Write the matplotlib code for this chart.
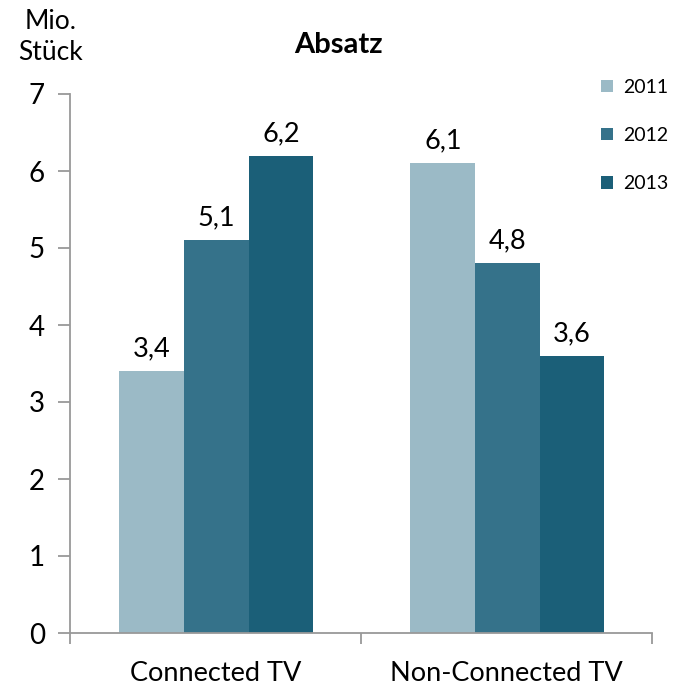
import matplotlib
matplotlib.use("Agg")
import matplotlib.pyplot as plt
import numpy as np

plt.rcParams['font.family'] = ['Lato', 'DejaVu Sans']

categories = ["Connected TV", "Non-Connected TV"]
years = ["2011", "2012", "2013"]
values = {
    "2011": [3.4, 6.1],
    "2012": [5.1, 4.8],
    "2013": [6.2, 3.6],
}
value_labels = {
    "2011": ["3,4", "6,1"],
    "2012": ["5,1", "4,8"],
    "2013": ["6,2", "3,6"],
}
colors = ["#9BBAC6", "#35728A", "#1B5F78"]
yticks = [0, 1, 2, 3, 4, 5, 6, 7]

fig = plt.figure(figsize=(6.79, 6.87), dpi=100)
ax = fig.add_axes([70/679, 1-633/687, (652-70)/679, (633-94)/687])

x = np.arange(len(categories))
w = 0.222
for i, yr in enumerate(years):
    pos = x + (i - 1) * w + 0.003
    ax.bar(pos, values[yr], width=w, color=colors[i], label=yr, edgecolor='none')
    for p, v, lab in zip(pos, values[yr], value_labels[yr]):
        ax.text(p, v + 0.19, lab, ha='center', va='baseline', fontsize=19.5)

ax.set_xlim(-0.5, 1.5)
ax.set_ylim(0, 7)
ax.set_yticks(yticks)
ax.set_yticklabels([str(t) for t in yticks], fontsize=20)
ax.set_xticks([-0.5, 0.5, 1.5])
ax.set_xticklabels([])
ax.set_xticks(x, minor=True)
ax.set_xticklabels(categories, minor=True, fontsize=19.5)
ax.tick_params(axis='x', which='minor', length=0, pad=20)
ax.tick_params(axis='x', which='major', length=8, width=1.3, color='#999999', direction='out')
ax.tick_params(axis='y', length=9, width=1.3, color='#999999', direction='out', pad=9)
for s in ['top', 'right']:
    ax.spines[s].set_visible(False)
for s in ['left', 'bottom']:
    ax.spines[s].set_color('#999999')
    ax.spines[s].set_linewidth(1.3)

fig.text(338/679, 1-45/687, "Absatz", ha='center', va='center', fontsize=21, fontweight='bold')
fig.text(51/679, 1-37/687, "Mio.\nStück", ha='center', va='center', fontsize=19, linespacing=1.3)

leg = ax.legend(loc='upper left', bbox_to_anchor=(597/679, 1-75/687), bbox_transform=fig.transFigure,
                frameon=False, fontsize=14, handlelength=0.62, handleheight=0.62,
                labelspacing=1.6, handletextpad=0.5, borderaxespad=0, borderpad=0.2)

fig.savefig("out.png", dpi=100)
